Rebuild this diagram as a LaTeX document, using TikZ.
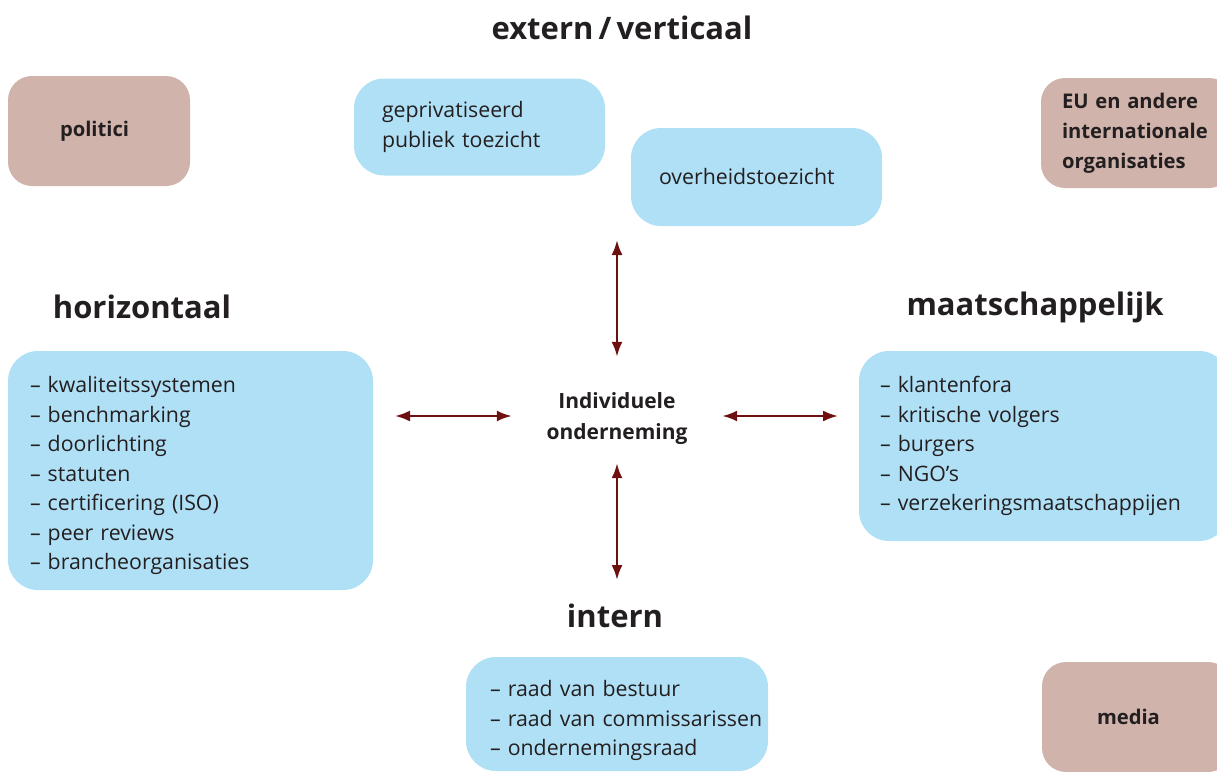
\documentclass[tikz,border=0pt]{standalone}
\usepackage{fontspec}
\setmainfont{Open Sans}
\usetikzlibrary{arrows.meta}
\hyphenpenalty=10000
\exhyphenpenalty=10000
\hbadness=10000
\hfuzz=40pt

\definecolor{boxblue}{RGB}{176,224,246}
\definecolor{boxpink}{RGB}{208,179,171}
\definecolor{arrowred}{RGB}{110,16,16}
\definecolor{txtdark}{RGB}{35,31,32}

\tikzset{
  bluebox/.style={fill=boxblue, rounded corners=30pt, inner xsep=22pt, align=left,
    text=txtdark, font=\fontsize{21.3}{29.5}\selectfont},
  pinkbox/.style={fill=boxpink, rounded corners=24pt, align=left, text=txtdark,
    font=\bfseries\fontsize{20.2}{30}\selectfont},
  heading/.style={text=txtdark, font=\bfseries\fontsize{31}{36}\selectfont},
  conn/.style={draw=arrowred, line width=2.4pt, {Latex[length=15pt,width=11pt]}-{Latex[length=15pt,width=11pt]}}
}

\begin{document}
\begin{tikzpicture}[x=1pt, y=-1pt]
\useasboundingbox (0,0) rectangle (1217,771);

% headings
\node[heading] (hext) at (622,28) {extern\,/\,verticaal};
\node[heading] (hhor) at (142,307) {horizontaal};
\node[heading] (hmaat) at (1035,307) {maatschappelijk};
\node[heading] (hint) at (615,616) {intern};

% pink boxes
\node[pinkbox, minimum width=182pt, minimum height=110pt, inner xsep=52pt, text width=78pt] (politici) at (99,131) {politici};
\node[pinkbox, minimum width=190pt, minimum height=110pt, inner xsep=21pt, text width=150pt] (eu) at (1137,133)
  {EU en andere\\internationale\\organisaties};
\node[pinkbox, minimum width=190pt, minimum height=110pt, inner xsep=55pt, text width=80pt] (media) at (1137,717) {media};

% blue boxes
\node[bluebox, minimum width=251pt, minimum height=97pt, inner xsep=28pt, text width=195pt] (gepriv) at (479.5,127)
  {geprivatiseerd\\publiek toezicht};
\node[bluebox, minimum width=251pt, minimum height=98pt, inner xsep=28pt, text width=195pt] (overheid) at (756.5,177)
  {overheidstoezicht};
\node[bluebox, minimum width=365pt, minimum height=239pt, text width=321pt] (horiz) at (190.5,470.5)
  {\rule{0pt}{27pt}-- kwaliteitssystemen\\-- benchmarking\\-- doorlichting\\-- statuten\\-- certificering (ISO)\\-- peer reviews\\-- brancheorganisaties};
\node[bluebox, minimum width=370pt, minimum height=190pt, inner xsep=21pt, text width=328pt] (maat) at (1044,446)
  {-- klantenfora\\-- kritische volgers\\-- burgers\\-- NGO's\\-- verzekeringsmaatschappijen};
\node[bluebox, minimum width=302pt, minimum height=114pt, inner xsep=24pt, text width=254pt] (intern) at (617,714)
  {\rule{0pt}{30pt}-- raad van bestuur\\\mbox{-- raad van commissarissen}\\-- ondernemingsraad};

% centre
\node[minimum width=210pt, minimum height=124pt, align=center, text=txtdark,
  font=\bfseries\fontsize{21}{31}\selectfont] (ind) at (617,419) {Individuele\\onderneming};

\coordinate (upend) at (617,240);
\coordinate (downend) at (617,580);
\coordinate (leftend) at (395,416);
\coordinate (rightend) at (838,416);

\draw[conn] (ind.north) -- (upend);
\draw[conn] ([yshift=18pt]ind.south) -- (downend);
\draw[conn] ([yshift=3pt]ind.west) -- (leftend);
\draw[conn] ([yshift=3pt]ind.east) -- (rightend);
\end{tikzpicture}
\end{document}
